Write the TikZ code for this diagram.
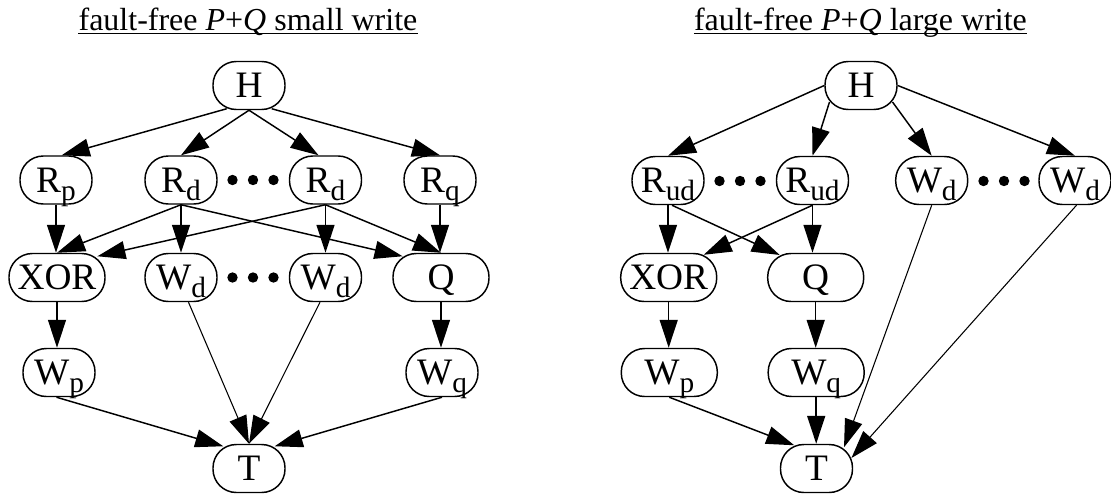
\documentclass[tikz,border=0pt]{standalone}
\usepackage{fontspec}
\setmainfont{Liberation Serif}
\usetikzlibrary{arrows.meta,calc}
\newcommand\sbs[1]{\raisebox{-6pt}{\fontsize{22}{22}\selectfont #1}}
\tikzset{
  box/.style={draw, line width=1.1pt, rounded corners=17.5pt, minimum width=54pt,
    minimum height=36pt, inner sep=0pt, font=\fontsize{28}{28}\selectfont,
    text height=18.5pt, text depth=0pt},
  wide/.style={box, minimum width=72pt},
  ttl/.style={anchor=base, inner sep=0pt, font=\fontsize{24}{24}\selectfont},
  uline/.style={line width=0.75pt},
  arr/.style={-{Triangle[length=21pt,width=13.5pt]}, line width=1.1pt},
  tarr/.style={arr, line width=0.8pt},
  dotfill/.style={fill=black}
}
\begin{document}
\begin{tikzpicture}[x=0.75pt,y=-0.75pt]
\useasboundingbox (0,0) rectangle (1111,493);
% ---------- left: small write ----------
\node[ttl] (t1) at (248,30.7) {fault-free \textit{P}+\textit{Q} small write};
\draw[uline] ($(t1.base west)+(0,2.3)$) -- ($(t1.base east)+(0,2.3)$);
\node[box] (H1) at (249,85.5) {H};
\node[box] (Rp1) at (56,180) {R\sbs{p}};
\node[box] (Rd1a) at (181,180) {R\sbs{d}};
\node[box] (Rd1b) at (325.5,180) {R\sbs{d}};
\node[box] (Rq1) at (440,180) {R\sbs{q}};
\node[wide] (X1) at (57,277.5) {XOR};
\node[box] (Wd1a) at (181,277.5) {W\sbs{d}};
\node[box] (Wd1b) at (325.5,277.5) {W\sbs{d}};
\node[wide] (Q1) at (441,277.5) {Q};
\node[box] (Wp1) at (59,372.5) {W\sbs{p}};
\node[box] (Wq1) at (442,372.5) {W\sbs{q}};
\node[box] (T1) at (249,468.5) {T};
\foreach \x in {232.5,253,273.5} {
  \fill[dotfill] (\x,180) circle[radius=3.9pt];
  \fill[dotfill] (\x,277.5) circle[radius=3.9pt];
}
\draw[arr] ($(H1.south)+(-22.3,-1.5)$) -- ($(Rp1.north)+(5.7,0)$);
\draw[arr] (H1.south) -- (Rd1a.north);
\draw[arr] (H1.south) -- ($(Rd1b.north)+(-7,0)$);
\draw[arr] ($(H1.south)+(22.7,-1.5)$) -- (Rq1.north);
\draw[arr] (Rp1.south) -- (Rp1.south |- X1.north);
\draw[arr] (Rd1a.south) -- (X1.north);
\draw[arr] (Rd1a.south) -- (Wd1a.north);
\draw[arr] (Rd1a.south) -- ($(Q1.north west)+(10.3,3.5)$);
\draw[arr] (Rd1b.south) -- ($(X1.north east)+(-8.3,3.5)$);
\draw[arr] (Rd1b.south) -- (Wd1b.north);
\draw[arr] (Rd1b.south) -- (Q1.north);
\draw[arr] (Rq1.south) -- (Rq1.south |- Q1.north);
\draw[arr] (X1.south) -- (X1.south |- Wp1.north);
\draw[arr] (Q1.south) -- (Q1.south |- Wq1.north);
\draw[arr] ($(Wp1.south)+(-2.5,0)$) -- ($(T1.north west)+(11,2.5)$);
\draw[tarr] ($(Wd1a.south)+(7.5,0)$) -- (T1.north);
\draw[tarr] ($(Wd1b.south)+(-5.5,0)$) -- (T1.north);
\draw[arr] (Wq1.south) -- ($(T1.north east)+(-11,2.5)$);
% ---------- right: large write ----------
\node[ttl] (t2) at (860.5,30.7) {fault-free \textit{P}+\textit{Q} large write};
\draw[uline] ($(t2.base west)+(0,2.3)$) -- ($(t2.base east)+(0,2.3)$);
\node[box] (H2) at (861,85.5) {H};
\node[box] (Ru2a) at (668,180.5) {R\sbs{ud}};
\node[box] (Ru2b) at (812.5,180.5) {R\sbs{ud}};
\node[box] (Wd2a) at (931.7,180.5) {W\sbs{d}};
\node[box] (Wd2b) at (1075,180.5) {W\sbs{d}};
\node[wide] (X2) at (668.7,277.5) {XOR};
\node[wide] (Q2) at (815.7,277.5) {Q};
\node[wide] (Wp2) at (669.3,372.5) {W\sbs{p}};
\node[wide] (Wq2) at (816.2,372.5) {W\sbs{q}};
\node[box] (T2) at (816.5,468.5) {T};
\foreach \x in {719.5,740,760.5,983.5,1004,1024.5} {
  \fill[dotfill] (\x,181) circle[radius=3.9pt];
}
\draw[arr] (H2.west) -- (Ru2a.north);
\draw[arr] ($(H2.center)+(-31.5,16.5)$) -- (Ru2b.north);
\draw[arr] ($(H2.center)+(31.5,16.5)$) -- (Wd2a.north);
\draw[arr] (H2.east) -- (Wd2b.north);
\draw[arr] (Ru2a.south) -- (Ru2a.south |- X2.north);
\draw[arr] ($(Ru2a.south)+(4,0)$) -- ($(Q2.north west)+(12.7,2.2)$);
\draw[arr] (Ru2b.south) -- ($(X2.north east)+(-13.7,2)$);
\draw[arr] (Ru2b.south) -- (Ru2b.south |- Q2.north);
\draw[arr] (X2.south) -- (X2.south |- Wp2.north);
\draw[arr] (Q2.south) -- (Q2.south |- Wq2.north);
\draw[arr] (Wp2.south) -- ($(T2.north west)+(14.5,1.5)$);
\draw[arr] (Wq2.south) -- (Wq2.south |- T2.north);
\draw[tarr] (Wd2a.south) -- ($(T2.north east)+(-9.2,3.5)$);
\draw[tarr] ($(Wd2b.south)+(1.5,0)$) -- ($(T2.east)+(-1.8,-10.5)$);
\end{tikzpicture}
\end{document}
